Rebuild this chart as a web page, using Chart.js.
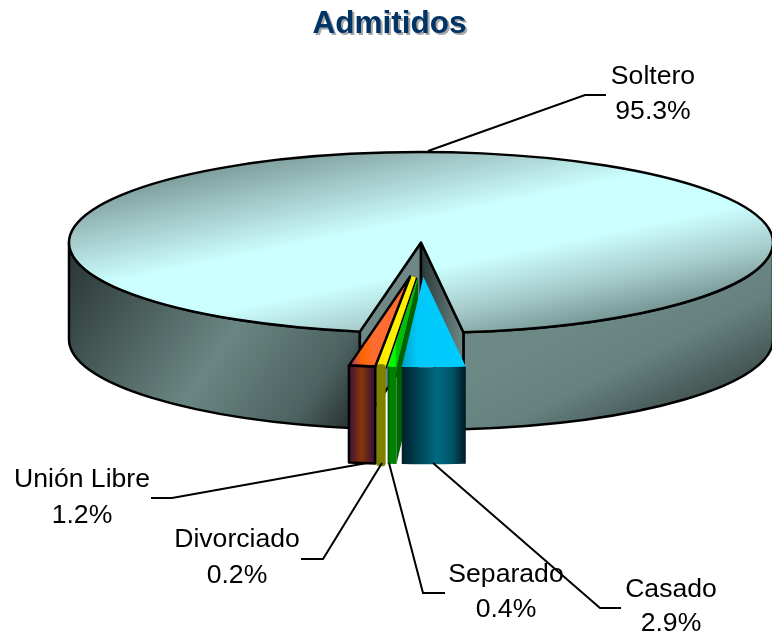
<!DOCTYPE html>
<html>
<head>
<meta charset="utf-8">
<style>
    html, body { margin: 0; padding: 0; background: #fff; }
    canvas { display: block; }
</style>
<script src="https://cdn.jsdelivr.net/npm/chart.js@4"></script>
</head>
<body>
<canvas id="chart" width="772" height="638"></canvas>
<script>
const chartTitle = 'Admitidos'
const categories = ['Soltero', 'Casado', 'Separado', 'Divorciado', 'Unión Libre']
const percentages = [95.3, 2.9, 0.4, 0.2, 1.2]

// label text and leader lines, in page pixels
const labelCenters = [653, 671, 506, 237, 82]
const labelBaselines = [[84, 119], [597, 631], [582, 617], [547, 583], [487, 523]]
const leaderLines = [
    [[428, 151], [585, 95], [606, 95]],
    [[433, 463], [600, 608], [621, 608]],
    [[389, 463], [423, 593], [445, 593]],
    [[382, 463], [323, 559], [301, 559]],
    [[367, 463], [172, 498], [151, 498]],
]

// fake 3D: the pie is squashed in y and extruded downwards
const radius = 352
const squash = 90.5 / 352
const depth = 97
const rotation = 190
const explodeX = [0, 80, 40, 80, 80]
const explodeY = 34.3

const sliceBands = [null, [402, 465], [386, 397], [376, 385], [349, 374]]
const topStops = [
    null,
    [[0, '#00a4cc'], [0.25, '#00c8fa'], [1, '#00ccff']],
    [[0, '#00ff00'], [0.8, '#00f800'], [1, '#00c000']],
    [[0, '#ffd800'], [1, '#ffee00']],
    [[0, '#a0308c'], [0.5, '#ff6600'], [1, '#ff6c30']],
]
const sideStops = [
    null,
    [[0, '#00202c'], [0.55, '#006a82'], [0.8, '#005468'], [1, '#001c26']],
    [[0, '#004000'], [0.4, '#008000'], [0.9, '#008000'], [1, '#005000']],
    [[0, '#808000'], [1, '#808000']],
    [[0, '#3c1040'], [0.5, '#883608'], [1, '#3a1038']],
]
const outlines = ['full', 'none', 'none', 'none', 'full']
// Divorciado is drawn wider than its share, like in the original
const widen = [0, 0, 0, 5, 0]

function linear(ctx, x0, y0, x1, y1, stops) {
    const gradient = ctx.createLinearGradient(x0, y0, x1, y1)
    stops.forEach(([at, color]) => gradient.addColorStop(at, color))
    return gradient
}

// a gradient given in page pixels, for a fill made under the squash transform
function squashedGradient(ctx, cy, x0, y0, x1, y1, stops) {
    const nx = x1 - x0
    const ny = y1 - y0
    const len = nx * nx + ny * ny
    const vx = nx / len
    const vy = (ny * squash) / len
    const vLen = vx * vx + vy * vy
    const startY = cy + (y0 - cy) / squash
    return linear(ctx, x0, startY, x0 + vx / vLen, startY + vy / vLen, stops)
}

function midAngle(index) {
    const before = percentages.slice(0, index).reduce((sum, value) => sum + value, 0)
    const total = percentages.reduce((sum, value) => sum + value, 0)
    const turns = (before + percentages[index] / 2) / total
    return ((rotation - 90) * Math.PI) / 180 + turns * 2 * Math.PI
}

function explodeShift(index) {
    const mid = midAngle(index)
    return [Math.cos(mid) * explodeX[index], Math.sin(mid) * explodeY]
}

function faceColor(context) {
    const { chart, dataIndex } = context

    // options also get resolved once before the first layout
    if (!chart.chartArea) {
        return '#ccffff'
    }

    if (dataIndex === 0) {
        const cy = (chart.chartArea.top + chart.chartArea.bottom) / 2
        return squashedGradient(chart.ctx, cy, 396, 117.5, 446, 362.5, [
            [0, '#70908e'],
            [0.2, '#a0c4c4'],
            [0.42, '#ccffff'],
            [0.62, '#ccffff'],
            [0.8, '#a8cccc'],
            [1, '#6a8a88'],
        ])
    }

    // the face gets moved by the explode shift when it is drawn
    const [x0, x1] = sliceBands[dataIndex]
    const [dx] = explodeShift(dataIndex)
    return linear(chart.ctx, x0 - dx, 0, x1 - dx, 0, topStops[dataIndex])
}

function rimPoint(arc, angle) {
    return [
        arc.x + Math.cos(angle) * arc.outerRadius,
        arc.y + Math.sin(angle) * arc.outerRadius * squash,
    ]
}

function sidePath(ctx, arc, from, to) {
    const rx = arc.outerRadius
    const ry = rx * squash
    ctx.beginPath()
    ctx.ellipse(arc.x, arc.y, rx, ry, 0, from, to)
    ctx.ellipse(arc.x, arc.y + depth, rx, ry, 0, to, from, true)
    ctx.closePath()
}

function wallPath(ctx, arc, angle) {
    const [x, y] = rimPoint(arc, angle)
    ctx.beginPath()
    ctx.moveTo(arc.x, arc.y)
    ctx.lineTo(x, y)
    ctx.lineTo(x, y + depth)
    ctx.lineTo(arc.x, arc.y + depth)
    ctx.closePath()
}

function drawFace(ctx, arc) {
    ctx.save()
    ctx.translate(arc.x, arc.y)
    ctx.scale(1, squash)
    ctx.translate(-arc.x, -arc.y)
    arc.draw(ctx)
    ctx.restore()
}

function facePath(ctx, arc) {
    const rx = arc.outerRadius
    ctx.beginPath()
    ctx.moveTo(arc.x, arc.y)
    ctx.ellipse(arc.x, arc.y, rx, rx * squash, 0, arc.startAngle, arc.endAngle)
    ctx.closePath()
}

function drawSoltero(ctx, arc) {
    const rim = { x: arc.x, y: arc.y, outerRadius: arc.outerRadius }
    const start = arc.startAngle
    const end = arc.endAngle

    // outer wall, left and right of the notch
    sidePath(ctx, rim, start, Math.PI)
    ctx.fillStyle = linear(ctx, 69, 240, 350, 430, [
        [0, '#263232'],
        [0.55, '#6a8682'],
        [0.85, '#4c6260'],
        [1, '#263030'],
    ])
    ctx.fill()
    ctx.stroke()

    sidePath(ctx, rim, 0, end - 2 * Math.PI)
    ctx.fillStyle = linear(ctx, 620, 300, 680, 420, [
        [0, '#6d8986'],
        [0.45, '#668280'],
        [1, '#3d4d4b'],
    ])
    ctx.fill()
    ctx.stroke()

    // inside of the notch
    wallPath(ctx, rim, start)
    ctx.fillStyle = '#6e8886'
    ctx.fill()
    ctx.stroke()

    wallPath(ctx, rim, end)
    const [rimX] = rimPoint(rim, end)
    ctx.fillStyle = linear(ctx, arc.x, 0, rimX, 0, [
        [0, '#2a3838'],
        [1, '#6e8886'],
    ])
    ctx.fill()
    ctx.stroke()

    drawFace(ctx, arc)
    facePath(ctx, arc)
    ctx.stroke()
}

function drawExploded(ctx, arc, index) {
    const [dx, dy] = explodeShift(index)
    const rim = {
        x: arc.x + dx,
        y: arc.y + dy,
        outerRadius: arc.outerRadius,
        startAngle: arc.startAngle,
        endAngle: arc.endAngle,
    }
    const [x0, x1] = sliceBands[index]
    const topColor = linear(ctx, x0, 0, x1, 0, topStops[index])
    const sideColor = linear(ctx, x0, 0, x1, 0, sideStops[index])

    // only Separado shows its inner wall, the others are covered
    if (index === 2) {
        wallPath(ctx, rim, arc.startAngle)
        ctx.fillStyle = '#006400'
        ctx.fill()
    }

    if (widen[index]) {
        ctx.save()
        ctx.lineJoin = 'bevel'
        facePath(ctx, rim)
        ctx.lineWidth = widen[index] + 3
        ctx.stroke()
        ctx.lineWidth = widen[index]
        ctx.strokeStyle = topColor
        ctx.stroke()
        ctx.restore()
    }

    ctx.save()
    ctx.translate(dx, dy)
    drawFace(ctx, arc)
    ctx.restore()

    sidePath(ctx, rim, arc.startAngle, arc.endAngle)
    ctx.fillStyle = sideColor
    ctx.fill()
    if (widen[index]) {
        ctx.save()
        ctx.lineWidth = widen[index]
        ctx.strokeStyle = sideColor
        ctx.stroke()
        ctx.restore()
    }
    if (outlines[index] === 'full') {
        ctx.stroke()
        facePath(ctx, rim)
        ctx.stroke()
    }
}

const pie3d = {
    id: 'pie3d',
    beforeDatasetsDraw(chart) {
        const ctx = chart.ctx
        const arcs = chart.getDatasetMeta(0).data

        ctx.save()
        ctx.lineWidth = 2.5
        ctx.strokeStyle = '#000'
        ctx.lineJoin = 'round'
        drawSoltero(ctx, arcs[0])
        for (const index of [3, 4, 2, 1]) {
            drawExploded(ctx, arcs[index], index)
        }
        ctx.restore()

        return false
    },
}

const labels3d = {
    id: 'labels3d',
    afterDraw(chart) {
        const ctx = chart.ctx
        ctx.save()

        ctx.textAlign = 'center'
        ctx.textBaseline = 'alphabetic'

        ctx.font = 'bold 31.5px "Liberation Sans", Arial, sans-serif'
        ctx.fillStyle = '#a6a6a6'
        ctx.fillText(chartTitle, 391.5, 35)
        ctx.fillStyle = '#003366'
        ctx.fillText(chartTitle, 389.5, 33)

        ctx.lineWidth = 2
        ctx.strokeStyle = '#000'
        leaderLines.forEach((points) => {
            ctx.beginPath()
            points.forEach(([x, y], i) => (i ? ctx.lineTo(x, y) : ctx.moveTo(x, y)))
            ctx.stroke()
        })

        ctx.font = '26.6px "Liberation Sans", Arial, sans-serif'
        ctx.fillStyle = '#000'
        categories.forEach((name, i) => {
            ctx.fillText(name, labelCenters[i], labelBaselines[i][0])
            ctx.fillText(percentages[i].toFixed(1) + '%', labelCenters[i], labelBaselines[i][1])
        })

        ctx.restore()
    },
}

new Chart(document.getElementById('chart'), {
    type: 'pie',
    data: {
        labels: categories,
        datasets: [
            {
                data: percentages,
                backgroundColor: faceColor,
                borderWidth: 0,
            },
        ],
    },
    options: {
        responsive: false,
        animation: false,
        rotation,
        radius,
        layout: { padding: { left: 70, bottom: 153 } },
        plugins: {
            legend: { display: false },
            tooltip: { enabled: false },
        },
    },
    plugins: [pie3d, labels3d],
})
</script>
</body>
</html>
